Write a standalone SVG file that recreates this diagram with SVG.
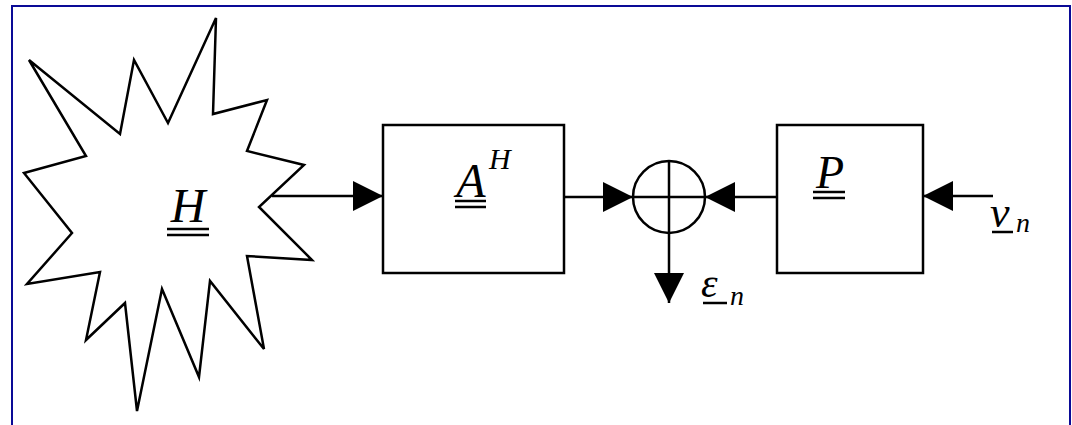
<svg xmlns="http://www.w3.org/2000/svg" width="1072" height="425" viewBox="0 0 1072 425">
<defs>
<style>
.s{fill:#fff;stroke:#000;stroke-width:2.5;stroke-linejoin:miter}
.l{fill:none;stroke:#000;stroke-width:2.5}
.u{stroke:#000;stroke-width:2.5}
text{font-family:"Liberation Serif","DejaVu Serif",serif;font-style:italic;fill:#000}
</style>
<marker id="ah" markerUnits="userSpaceOnUse" markerWidth="31" markerHeight="30" refX="30" refY="15" orient="auto">
<path d="M0,0 L30,15 L0,30 Z" fill="#000"/>
</marker>
</defs>
<rect x="0" y="0" width="1072" height="425" fill="#fff"/>
<rect x="12" y="6" width="1058" height="440" fill="none" stroke="#0a0a96" stroke-width="2"/>
<g id="star">
<polygon class="s" points="216,18 213,114 267,100 247,151 304,165 259,207 312,260 247,256 264,349 210,281 199,377 162,289 137,411 125,303 86,340 100,272 27,284 72,233 24,173 86,156 29,60 120,134 134,60 168,123"/>
<text x="188" y="222" font-size="48" text-anchor="middle">H</text>
<line class="u" x1="167" y1="229" x2="209" y2="229"/>
<line class="u" x1="167" y1="235" x2="209" y2="235"/>
</g>
<g id="boxA">
<rect class="s" x="383" y="125" width="181" height="148"/>
<text x="471" y="197" font-size="48" text-anchor="middle">A</text>
<text x="489" y="169" font-size="30">H</text>
<line class="u" x1="455" y1="201" x2="486" y2="201"/>
<line class="u" x1="455" y1="207" x2="486" y2="207"/>
</g>
<g id="sum">
<circle class="s" cx="669" cy="197" r="36"/>
<line class="l" x1="633" y1="197" x2="705" y2="197"/>
<line class="l" x1="669" y1="161" x2="669" y2="233"/>
</g>
<g id="boxP">
<rect class="s" x="777" y="125" width="146" height="148"/>
<text x="830" y="188" font-size="46" text-anchor="middle">P</text>
<line class="u" x1="813" y1="192" x2="845" y2="192"/>
<line class="u" x1="813" y1="198" x2="845" y2="198"/>
</g>
<g id="vn">
<text x="990" y="227" font-size="44">v</text>
<text x="1016" y="232" font-size="28">n</text>
<line class="u" x1="992" y1="232" x2="1013" y2="232"/>
</g>
<g id="en">
<text x="701" y="297" font-size="42">ε</text>
<text x="730" y="305" font-size="28">n</text>
<line class="u" x1="703" y1="303" x2="727" y2="303"/>
</g>
<g id="connectors">
<line class="l" x1="272" y1="196" x2="383" y2="196" marker-end="url(#ah)"/>
<line class="l" x1="564" y1="197" x2="633" y2="197" marker-end="url(#ah)"/>
<line class="l" x1="777" y1="197" x2="705" y2="197" marker-end="url(#ah)"/>
<line class="l" x1="669" y1="233" x2="669" y2="303" marker-end="url(#ah)"/>
<line class="l" x1="993" y1="196" x2="923" y2="196" marker-end="url(#ah)"/>
</g>
</svg>
